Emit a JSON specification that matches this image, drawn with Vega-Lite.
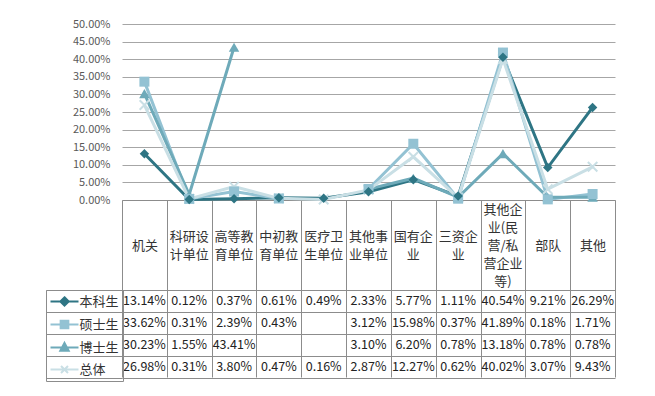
{
  "$schema": "https://vega.github.io/schema/vega-lite/v6.json",
  "width": 493,
  "height": 176,
  "autosize": {"type": "none"},
  "padding": {"left": 122, "top": 24, "right": 40, "bottom": 196},
  "background": "white",
  "config": {
    "font": "Noto Sans CJK SC",
    "view": {"stroke": null},
    "axisX": {"labelFontSize": 13, "labelColor": "#333333", "labelLineHeight": 18, "labelAngle": 0, "labelOverlap": false, "labelLimit": 0, "labelBaseline": "middle", "grid": false, "title": null},
    "legend": {
      "orient": "none",
      "legendX": -76,
      "legendY": 266,
      "padding": 3.5,
      "rowPadding": 6,
      "symbolSize": 196,
      "symbolStrokeWidth": 2,
      "symbolOpacity": 1,
      "labelFontSize": 13,
      "labelOffset": 14,
      "labelColor": "#333333",
      "strokeColor": "#8c8c8c",
      "titlePadding": 0
    }
  },
  "data": {
    "values": [
      {"category": "机关", "series": "本科生", "value": 0.1314},
      {"category": "科研设计单位", "series": "本科生", "value": 0.0012},
      {"category": "高等教育单位", "series": "本科生", "value": 0.0037},
      {"category": "中初教育单位", "series": "本科生", "value": 0.0061},
      {"category": "医疗卫生单位", "series": "本科生", "value": 0.0049},
      {"category": "其他事业单位", "series": "本科生", "value": 0.0233},
      {"category": "国有企业", "series": "本科生", "value": 0.0577},
      {"category": "三资企业", "series": "本科生", "value": 0.0111},
      {"category": "其他企业(民营/私营企业等)", "series": "本科生", "value": 0.4054},
      {"category": "部队", "series": "本科生", "value": 0.0921},
      {"category": "其他", "series": "本科生", "value": 0.2629},
      {"category": "机关", "series": "硕士生", "value": 0.3362},
      {"category": "科研设计单位", "series": "硕士生", "value": 0.0031},
      {"category": "高等教育单位", "series": "硕士生", "value": 0.0239},
      {"category": "中初教育单位", "series": "硕士生", "value": 0.0043},
      {"category": "医疗卫生单位", "series": "硕士生", "value": null},
      {"category": "其他事业单位", "series": "硕士生", "value": 0.0312},
      {"category": "国有企业", "series": "硕士生", "value": 0.1598},
      {"category": "三资企业", "series": "硕士生", "value": 0.0037},
      {"category": "其他企业(民营/私营企业等)", "series": "硕士生", "value": 0.4189},
      {"category": "部队", "series": "硕士生", "value": 0.0018},
      {"category": "其他", "series": "硕士生", "value": 0.0171},
      {"category": "机关", "series": "博士生", "value": 0.3023},
      {"category": "科研设计单位", "series": "博士生", "value": 0.0155},
      {"category": "高等教育单位", "series": "博士生", "value": 0.4341},
      {"category": "中初教育单位", "series": "博士生", "value": null},
      {"category": "医疗卫生单位", "series": "博士生", "value": null},
      {"category": "其他事业单位", "series": "博士生", "value": 0.0310},
      {"category": "国有企业", "series": "博士生", "value": 0.0620},
      {"category": "三资企业", "series": "博士生", "value": 0.0078},
      {"category": "其他企业(民营/私营企业等)", "series": "博士生", "value": 0.1318},
      {"category": "部队", "series": "博士生", "value": 0.0078},
      {"category": "其他", "series": "博士生", "value": 0.0078},
      {"category": "机关", "series": "总体", "value": 0.2698},
      {"category": "科研设计单位", "series": "总体", "value": 0.0031},
      {"category": "高等教育单位", "series": "总体", "value": 0.0380},
      {"category": "中初教育单位", "series": "总体", "value": 0.0047},
      {"category": "医疗卫生单位", "series": "总体", "value": 0.0016},
      {"category": "其他事业单位", "series": "总体", "value": 0.0287},
      {"category": "国有企业", "series": "总体", "value": 0.1227},
      {"category": "三资企业", "series": "总体", "value": 0.0062},
      {"category": "其他企业(民营/私营企业等)", "series": "总体", "value": 0.4002},
      {"category": "部队", "series": "总体", "value": 0.0307},
      {"category": "其他", "series": "总体", "value": 0.0943}
    ]
  },
  "resolve": {"scale": {"y": "independent", "x": "shared"}, "axis": {"y": "independent", "x": "independent"}},
  "layer": [
    {
      "encoding": {
        "x": {
          "field": "category", "type": "nominal", "sort": null, "bandPosition": 0.5, "title": null,
          "scale": {"type": "band", "paddingInner": 0, "paddingOuter": 0},
          "axis": {
            "orient": "bottom",
            "labelPadding": -132,
            "labelExpr": "indexof(['机关','部队','其他'], datum.value) >= 0 ? datum.value : ''",
            "tickBand": "extent", "tickSize": 177, "tickColor": "#8c8c8c", "tickWidth": 1,
            "domainColor": "#8c8c8c"
          }
        },
        "y": {
          "field": "value", "type": "quantitative", "title": null,
          "scale": {"domain": [0, 0.5], "nice": false, "zero": true},
          "axis": {
            "values": [0, 0.05, 0.1, 0.15, 0.2, 0.25, 0.3, 0.35, 0.4, 0.45, 0.5],
            "format": ".2%", "domain": false, "ticks": false, "grid": true,
            "gridColor": "#a6a6a6", "gridWidth": 1, "labelPadding": 12,
            "labelFontSize": 11, "labelColor": "#595959"
          }
        }
      },
      "layer": [
        {
          "mark": {"type": "line", "strokeWidth": 3, "invalid": "break-paths-show-domains"},
          "encoding": {
            "color": {
              "field": "series", "type": "nominal", "legend": null,
              "scale": {"domain": ["总体", "博士生", "硕士生", "本科生"], "range": ["#c9dfe5", "#6eaab9", "#93c2d3", "#2e7584"]}
            }
          }
        },
        {
          "transform": [{"filter": "datum.series == '总体' && datum.value != null"}],
          "mark": {"type": "point", "shape": "M-1,-1L1,1M-1,1L1,-1", "filled": false, "stroke": "#c9dfe5", "strokeWidth": 2, "size": 90, "opacity": 1}
        },
        {
          "transform": [{"filter": "datum.series == '博士生' && datum.value != null"}],
          "mark": {"type": "point", "shape": "triangle-up", "filled": true, "fill": "#6eaab9", "size": 110, "opacity": 1}
        },
        {
          "transform": [{"filter": "datum.series == '硕士生' && datum.value != null"}],
          "mark": {"type": "point", "shape": "square", "filled": true, "fill": "#93c2d3", "size": 100, "opacity": 1}
        },
        {
          "transform": [{"filter": "datum.series == '本科生' && datum.value != null"}],
          "mark": {"type": "point", "shape": "diamond", "filled": true, "fill": "#2e7584", "size": 90, "opacity": 1}
        }
      ]
    },
    {
      "transform": [{"filter": "datum.value != null"}],
      "mark": {"type": "text", "fontSize": 12.5, "color": "#222222", "baseline": "middle", "align": "center"},
      "encoding": {
        "x": {
          "field": "category", "type": "nominal", "sort": null, "bandPosition": 0.5,
          "axis": {
            "orient": "bottom", "ticks": false, "tickSize": 0, "domain": false, "labelPadding": 36,
            "labelExpr": "({'科研设计单位':['科研设','计单位'],'高等教育单位':['高等教','育单位'],'中初教育单位':['中初教','育单位'],'医疗卫生单位':['医疗卫','生单位'],'其他事业单位':['其他事','业单位'],'国有企业':['国有企','业'],'三资企业':['三资企','业']})[datum.value] || ''"
          }
        },
        "y": {
          "field": "series", "type": "nominal", "title": null,
          "scale": {"type": "band", "domain": ["本科生", "硕士生", "博士生", "总体"], "range": [266, 354], "paddingInner": 0, "paddingOuter": 0},
          "axis": {
            "orient": "left", "labels": false, "domain": false, "ticks": true, "tickSize": 76,
            "tickBand": "extent", "tickColor": "#8c8c8c", "grid": true, "gridColor": "#8c8c8c"
          }
        },
        "text": {"field": "value", "type": "quantitative", "format": ".2%"}
      }
    },
    {
      "mark": {"type": "point", "filled": true, "opacity": 0},
      "encoding": {
        "x": {
          "field": "category", "type": "nominal", "sort": null, "bandPosition": 0.5,
          "axis": {
            "orient": "bottom", "ticks": false, "tickSize": 0, "domain": false, "labelPadding": 9,
            "labelExpr": "datum.value == '其他企业(民营/私营企业等)' ? ['其他企','业(民','营/私','营企业','等)'] : ''"
          }
        },
        "fill": {
          "field": "series", "type": "nominal", "title": null,
          "scale": {"domain": ["本科生", "硕士生", "博士生", "总体"], "range": ["#2e7584", "#93c2d3", "#6eaab9", "#c9dfe5"]}
        },
        "stroke": {
          "field": "series", "type": "nominal", "title": null,
          "scale": {"domain": ["本科生", "硕士生", "博士生", "总体"], "range": ["#2e7584", "#93c2d3", "#6eaab9", "#c9dfe5"]}
        },
        "shape": {
          "field": "series", "type": "nominal", "title": null,
          "scale": {
            "domain": ["本科生", "硕士生", "博士生", "总体"],
            "range": [
              "M-1,0L3,0M1,-0.6L1.6,0L1,0.6L0.4,0Z",
              "M-1,0L3,0M0.45,-0.55L1.55,-0.55L1.55,0.55L0.45,0.55Z",
              "M-1,0L3,0M1,-0.65L1.6,0.45L0.4,0.45Z",
              "M-1,0L3,0M0.5,-0.5L1.5,0.5M0.5,0.5L1.5,-0.5"
            ]
          }
        }
      }
    }
  ]
}
